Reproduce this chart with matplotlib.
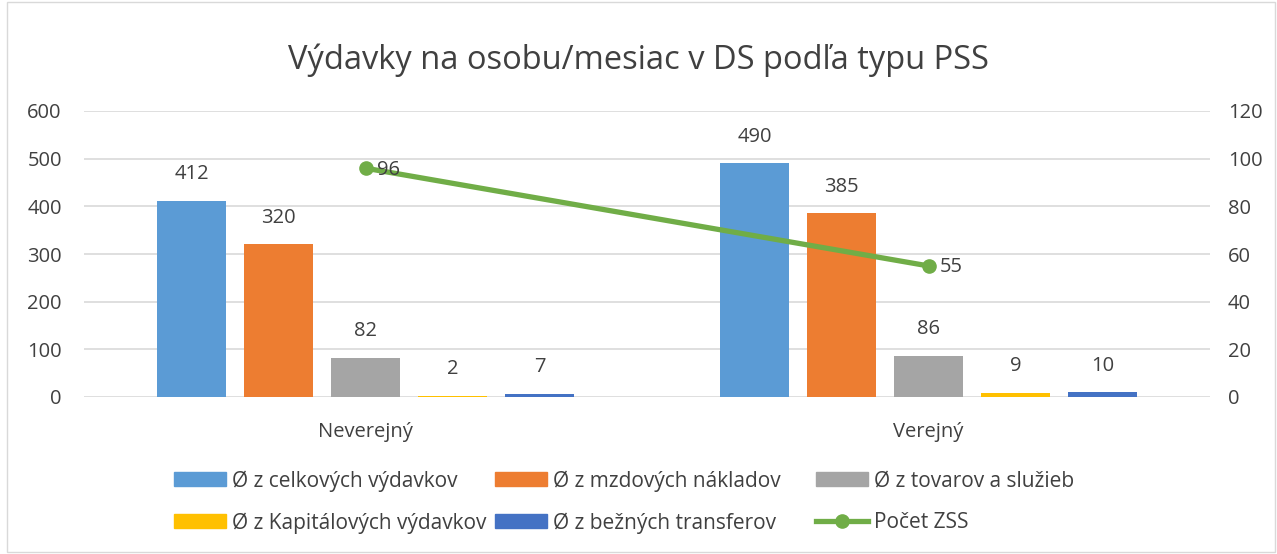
import numpy as np
import matplotlib.pyplot as plt
from matplotlib.patches import Rectangle, Patch
from matplotlib.lines import Line2D

plt.rcParams['font.family'] = ['Open Sans', 'DejaVu Sans']

categories = ['Neverejný', 'Verejný']
series_names = ['Ø z celkových výdavkov', 'Ø z mzdových nákladov', 'Ø z tovarov a služieb',
                'Ø z Kapitálových výdavkov', 'Ø z bežných transferov']
celkove = [412, 490]
mzdove = [320, 385]
tovary = [82, 86]
kapitalove = [2, 9]
transfery = [7, 10]
pocet_zss = [96, 55]
line_name = 'Počet ZSS'

colors = ['#5B9BD5', '#ED7D31', '#A5A5A5', '#FFC000', '#4472C4']
green = '#70AD47'
txt = '#404040'
W, H = 1277, 554

fig = plt.figure(figsize=(12.77, 5.54), dpi=100)
fig.patches.append(Rectangle((7 / W, 2 / H), 1268 / W, 550 / H, transform=fig.transFigure,
                             fill=False, edgecolor='#D9D9D9', linewidth=1))
ax = fig.add_axes([84 / W, 1 - 397 / H, (1210 - 84) / W, (397 - 111) / H])
ax2 = ax.twinx()

x = np.arange(len(categories))
width = 0.121
step = 0.1545
all_series = [celkove, mzdove, tovary, kapitalove, transfery]
for i, (vals, col, name) in enumerate(zip(all_series, colors, series_names)):
    pos = x + (i - 2) * step
    bars = ax.bar(pos, vals, width, color=col, label=name, zorder=2)
    for b, v in zip(bars, vals):
        ax.annotate(f'{v}', (b.get_x() + b.get_width() / 2, v), textcoords='offset points',
                    xytext=(0, 12), ha='center', va='bottom', fontsize=14.5, color=txt)

ax2.plot(x, pocet_zss, color=green, linewidth=3.8, marker='o', markersize=9.5, zorder=3)
for xi, v in zip(x, pocet_zss):
    ax2.annotate(f'{v}', (xi, v), textcoords='offset points', xytext=(8, -1),
                 ha='left', va='center', fontsize=14.5, color=txt)

ax.set_xlim(-0.5, 1.5)
ax.set_ylim(0, 600)
ax.set_yticks(range(0, 601, 100))
ax2.set_ylim(0, 120)
ax2.set_yticks(range(0, 121, 20))
ax.set_xticks(x)
ax.set_xticklabels(categories)
ax.yaxis.grid(True, color='#D9D9D9', linewidth=1.2, zorder=0)
ax.set_axisbelow(True)
for a in (ax, ax2):
    for s in a.spines.values():
        s.set_visible(False)
    a.tick_params(length=0, labelsize=14.5, labelcolor=txt)
ax.tick_params(axis='y', pad=16)
ax.tick_params(axis='x', pad=18)
ax2.tick_params(axis='y', pad=13)

fig.text(0.5, 1 - 60 / H, 'Výdavky na osobu/mesiac v DS podľa typu PSS', ha='center', va='center',
         fontsize=23.5, color=txt)

# legend entries placed one by one (rows like in the original)
handles = [Patch(color=c) for c in colors]
handles.append(Line2D([], [], color=green, linewidth=3.8, marker='o', markersize=9.5))
labels = series_names + [line_name]
col_x = [174, 495, 816]
row_y = [481, 523]
for k, (h, lab) in enumerate(zip(handles, labels)):
    lx = col_x[k % 3] / W
    ly = 1 - row_y[k // 3] / H
    leg = fig.legend([h], [lab], loc='center left', bbox_to_anchor=(lx, ly), frameon=False,
                     fontsize=15, labelcolor=txt, handlelength=2.5, handleheight=0.65,
                     handletextpad=0.3, borderpad=0, borderaxespad=0)

fig.savefig('out.png', dpi=100)
